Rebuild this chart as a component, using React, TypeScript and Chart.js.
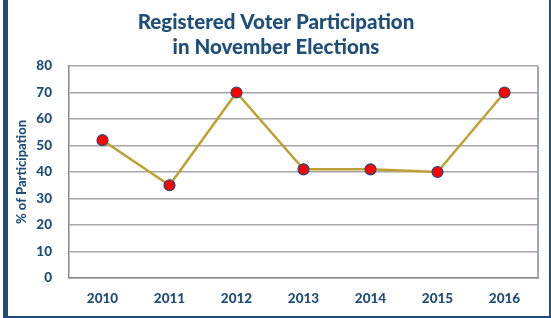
import React, { useEffect, useRef } from "react";
import { Chart, registerables } from "chart.js";

Chart.register(...registerables);

const years = ["2010", "2011", "2012", "2013", "2014", "2015", "2016"];
const participation = [52, 35, 70, 41, 41, 40, 70];
const titleLines = ["Registered Voter Participation", "in November Elections"];
const yAxisTitle = "% of Participation";

const NAVY = "#1F4E79";
const FONT = "Lato, 'Open Sans', sans-serif";

const frameRect = {
  id: "frameRect",
  beforeDatasetsDraw(chart: any) {
    const { ctx, chartArea } = chart;
    ctx.save();
    ctx.strokeStyle = "#7E8CA3";
    ctx.lineWidth = 1.5;
    ctx.beginPath();
    ctx.moveTo(chartArea.right, chartArea.top);
    ctx.lineTo(chartArea.right, chartArea.bottom);
    ctx.stroke();
    ctx.restore();
  },
};

export default function App() {
  const ref = useRef<HTMLCanvasElement>(null);
  useEffect(() => {
    if (!ref.current) return;
    const chart = new Chart(ref.current, {
      type: "line",
      data: {
        labels: years,
        datasets: [
          {
            data: participation,
            borderColor: "#BFA133",
            borderWidth: 2.5,
            pointBackgroundColor: "#FF0000",
            pointBorderColor: NAVY,
            pointBorderWidth: 1.2,
            pointRadius: 5.5,
            tension: 0,
          },
        ],
      },
      options: {
        animation: false,
        responsive: false,
        maintainAspectRatio: false,
        layout: { padding: { left: 14, right: 13, top: 10, bottom: 0 } },
        plugins: {
          legend: { display: false },
          tooltip: { enabled: false },
          title: {
            display: true,
            text: titleLines,
            color: NAVY,
            font: { family: FONT, size: 20.5, weight: 900, lineHeight: 1.22 },
            padding: { top: 0, bottom: 6 },
          },
        },
        scales: {
          x: {
            offset: true,
            grid: { display: false, drawTicks: false },
            border: { display: true, color: "#8A8A8A", width: 1.5 },
            ticks: {
              color: NAVY,
              font: { family: FONT, size: 13.5, weight: 900 },
              padding: 13,
            },
            afterFit: (s: any) => {
              s.height = 40;
            },
          },
          y: {
            min: 0,
            max: 80,
            ticks: {
              stepSize: 10,
              color: NAVY,
              font: { family: FONT, size: 13.5, weight: 900 },
              padding: 17,
            },
            grid: { color: "#A6A6A6", lineWidth: 1.5, drawTicks: false },
            border: { display: true, color: "#8A8A8A", width: 1.5 },
            title: {
              display: true,
              text: yAxisTitle,
              color: NAVY,
              font: { family: FONT, size: 13, weight: 900 },
              padding: 0,
            },
            afterFit: (s: any) => {
              s.width = 55;
            },
          },
        },
      },
      plugins: [frameRect],
    });
    return () => chart.destroy();
  }, []);
  return (
    <div style={{ position: "absolute", left: 0, top: 0, width: 551, height: 318, background: "#fff" }}>
      <canvas ref={ref} width={551} height={318} style={{ position: "absolute", left: 0, top: 0 }} />
      <div style={{ position: "absolute", left: 3, top: 0, width: 5, height: 318, background: NAVY }} />
      <div style={{ position: "absolute", left: 549, top: 0, width: 2, height: 318, background: NAVY }} />
      <div style={{ position: "absolute", left: 3, top: 316, width: 548, height: 2, background: NAVY }} />
    </div>
  );
}
